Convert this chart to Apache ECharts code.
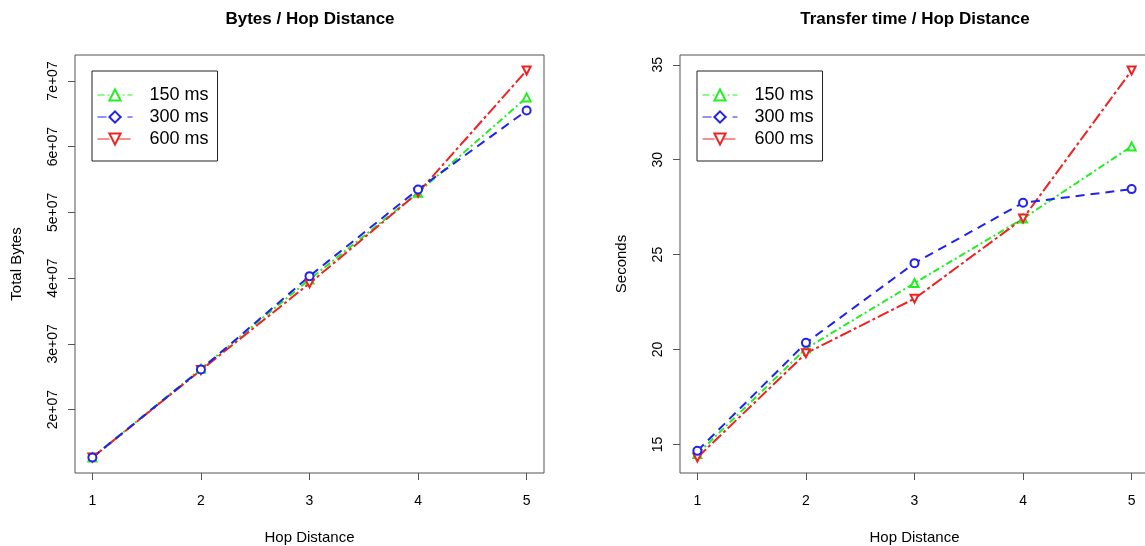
<!DOCTYPE html>
<html>
<head>
<meta charset="utf-8">
<script src="https://cdn.jsdelivr.net/npm/echarts@6/dist/echarts.min.js"></script>
<style>
html,body{margin:0;padding:0;background:#fff;}
#chart{width:1145px;height:546px;}
</style>
</head>
<body>
<div id="chart"></div>
<script>
// ---- data ----
const hops = [1, 2, 3, 4, 5];
const seriesNames = ['150 ms', '300 ms', '600 ms'];
const bytes150 = [1.27e7, 2.62e7, 3.98e7, 5.30e7, 6.75e7];
const bytes300 = [1.27e7, 2.61e7, 4.03e7, 5.35e7, 6.55e7];
const bytes600 = [1.27e7, 2.60e7, 3.92e7, 5.30e7, 7.16e7];
const time150 = [14.50, 20.05, 23.50, 26.90, 30.70];
const time300 = [14.66, 20.35, 24.55, 27.73, 28.45];
const time600 = [14.31, 19.80, 22.68, 26.90, 34.70];
const xTicks = [1, 2, 3, 4, 5];
const bytesTicks = [2e7, 3e7, 4e7, 5e7, 6e7, 7e7];
const timeTicks = [15, 20, 25, 30, 35];

// ---- helpers ----
const FONT = '"Liberation Sans", Arial, Helvetica, sans-serif';
function rRange(arrs) {
  const all = [].concat(...arrs);
  const lo = Math.min(...all), hi = Math.max(...all);
  const d = (hi - lo) * 0.04;
  return [lo - d, hi + d];
}
const xr = rRange([hops]);
const yrB = rRange([bytes150, bytes300, bytes600]);
const yrT = rRange([time150, time300, time600]);
const pairs = (ys) => hops.map((h, i) => [h, ys[i]]);

const styles = {
  '150 ms': { color: '#22ee22', dash: [7, 3, 2, 3], symbol: 'emptyTriangle', rot: 0, legendSymbol: 'emptyTriangle' },
  '300 ms': { color: '#2222ee', dash: [9, 6], symbol: 'emptyCircle', rot: 0, legendSymbol: 'emptyDiamond' },
  '600 ms': { color: '#ee2222', dash: [12, 3, 3, 3], symbol: 'emptyTriangle', rot: 180, legendSymbol: 'emptyTriangle' }
};

function mkSeries(name, data, gi) {
  const s = styles[name];
  return {
    name: name, type: 'line', xAxisIndex: gi, yAxisIndex: gi,
    data: pairs(data),
    symbol: s.symbol, symbolRotate: s.rot, symbolSize: 8,
    lineStyle: { color: s.color, width: 2, type: s.dash },
    itemStyle: { color: s.color, borderWidth: 1.8 },
    emphasis: { disabled: true },
    animation: false
  };
}
// legend-icon carriers (no data) so the legend shows the R legend glyphs
function legendCarrier(name) {
  const s = styles[name];
  return {
    name: name, type: 'line', xAxisIndex: 0, yAxisIndex: 0, data: [],
    symbol: s.legendSymbol, symbolRotate: s.rot,
    lineStyle: { color: s.color, width: 1, type: s.dash },
    itemStyle: { color: s.color },
    animation: false
  };
}

function xAxis(gi) {
  return {
    type: 'value', gridIndex: gi, min: xr[0], max: xr[1],
    name: 'Hop Distance', nameLocation: 'middle', nameGap: 57,
    nameTextStyle: { fontFamily: FONT, fontSize: 15, color: '#000' },
    axisLine: { show: false },
    axisTick: { show: true, inside: false, length: 7, customValues: xTicks, lineStyle: { color: '#555' } },
    axisLabel: { customValues: xTicks, margin: 21, fontFamily: FONT, fontSize: 14, color: '#000', formatter: v => String(v) },
    splitLine: { show: false }
  };
}
function yAxis(gi, rng, ticks, name, fmt) {
  return {
    type: 'value', gridIndex: gi, min: rng[0], max: rng[1],
    name: name, nameLocation: 'middle', nameGap: 51, nameRotate: 90,
    nameTextStyle: { fontFamily: FONT, fontSize: 15, color: '#000' },
    axisLine: { show: false },
    axisTick: { show: true, inside: false, length: 7, customValues: ticks, lineStyle: { color: '#555' } },
    axisLabel: { customValues: ticks, rotate: 90, margin: 15, fontFamily: FONT, fontSize: 14, color: '#000', formatter: fmt },
    splitLine: { show: false }
  };
}

function legend(left) {
  return {
    orient: 'vertical', left: left, top: 71,
    data: seriesNames.map(n => ({ name: n, iconRotate: 'inherit' })),
    itemWidth: 35, itemHeight: 14, itemGap: 2,
    padding: [14, 9, 12, 5],
    borderColor: '#222', borderWidth: 1, backgroundColor: '#fff',
    lineStyle: { width: 1 },
    selectedMode: false,
    textStyle: { fontFamily: FONT, fontSize: 18, color: '#000', lineHeight: 20, padding: [0, 0, 0, 12] }
  };
}

const option = {
  backgroundColor: '#fff',
  animation: false,
  title: [
    { text: 'Bytes / Hop Distance', left: 310, top: 11, textAlign: 'center', padding: 0,
      textStyle: { fontFamily: FONT, fontSize: 17, fontWeight: 'bold', color: '#000' } },
    { text: 'Transfer time / Hop Distance', left: 915, top: 11, textAlign: 'center', padding: 0,
      textStyle: { fontFamily: FONT, fontSize: 17, fontWeight: 'bold', color: '#000' } }
  ],
  grid: [
    { left: 75, top: 55, width: 469, height: 418, show: true, borderColor: '#555', borderWidth: 1,
      backgroundColor: 'transparent', containLabel: false, outerBoundsMode: 'none' },
    { left: 680, top: 55, width: 469, height: 418, show: true, borderColor: '#555', borderWidth: 1,
      backgroundColor: 'transparent', containLabel: false, outerBoundsMode: 'none' }
  ],
  legend: [legend(92), legend(697)],
  xAxis: [xAxis(0), xAxis(1)],
  yAxis: [
    yAxis(0, yrB, bytesTicks, 'Total Bytes', v => (Math.round(v / 1e6) / 10) + 'e+07'),
    yAxis(1, yrT, timeTicks, 'Seconds', v => String(v))
  ],
  series: [
    legendCarrier('150 ms'), legendCarrier('300 ms'), legendCarrier('600 ms'),
    mkSeries('150 ms', bytes150, 0), mkSeries('600 ms', bytes600, 0), mkSeries('300 ms', bytes300, 0),
    mkSeries('150 ms', time150, 1), mkSeries('600 ms', time600, 1), mkSeries('300 ms', time300, 1)
  ]
};
const chart = echarts.init(document.getElementById('chart'), null, { renderer: 'canvas' });
chart.setOption(option);
</script>
</body>
</html>
